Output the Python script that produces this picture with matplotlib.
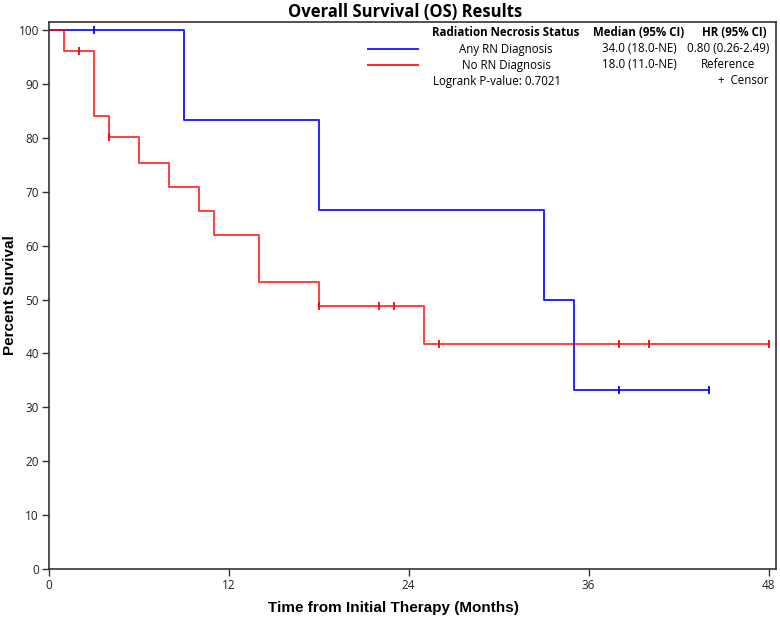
import matplotlib
matplotlib.use("Agg")
import matplotlib.pyplot as plt
import numpy as np

# Data
any_rn_times = [0, 9, 18, 33, 35, 44]
any_rn_surv = [100, 83.3, 66.7, 50.0, 33.3, 33.3]
any_rn_censor_t = [3, 38, 44]

no_rn_times = [0, 1, 3, 4, 6, 8, 10, 11, 14, 18, 25, 48]
no_rn_surv = [100, 96.2, 84.1, 80.1, 75.4, 70.9, 66.5, 62.0, 53.3, 48.8, 41.8, 41.8]
no_rn_censor_t = [2, 4, 18, 22, 23, 26, 38, 40, 48]

x_ticks = [0, 12, 24, 36, 48]
y_ticks = list(range(0, 101, 10))

legend_header = ["Radiation Necrosis Status", "Median (95% CI)", "HR (95% CI)"]
legend_rows = [["Any RN Diagnosis", "34.0 (18.0-NE)", "0.80 (0.26-2.49)"],
               ["No RN Diagnosis", "18.0 (11.0-NE)", "Reference"]]
pvalue_text = "Logrank P-value: 0.7021"

BLUE = "#0000ff"
RED = "#ff0000"

plt.rcParams['font.family'] = ['Open Sans', 'DejaVu Sans']

W, H = 780, 622
fig = plt.figure(figsize=(W/100, H/100), dpi=100)
ax = fig.add_axes([48.5/W, 1-569/H, (776-48.5)/W, (569-22)/H])

def surv_at(times, surv, t):
    idx = np.searchsorted(times, t, side='right') - 1
    return surv[idx]

ax.step(any_rn_times, any_rn_surv, where='post', color=BLUE, lw=1.4, alpha=0.85)
ax.step(no_rn_times, no_rn_surv, where='post', color=RED, lw=1.4, alpha=0.75)
ax.plot(any_rn_censor_t, [surv_at(any_rn_times, any_rn_surv, t) for t in any_rn_censor_t],
        ls='none', marker='|', ms=6, mew=1.3, color=BLUE)
ax.plot(no_rn_censor_t, [surv_at(no_rn_times, no_rn_surv, t) for t in no_rn_censor_t],
        ls='none', marker='|', ms=6, mew=1.3, color=RED)

ax.set_xlim(0, 48.5)
ax.set_ylim(0, 101.5)
ax.set_xticks(x_ticks)
ax.set_yticks(y_ticks)
ax.tick_params(labelsize=8.5, length=5, width=1, color='#333333', labelcolor='#222222', pad=2)
for s in ax.spines.values():
    s.set_linewidth(1.2)
    s.set_color('#333333')

ax.set_xlabel("Time from Initial Therapy (Months)", fontsize=11, fontweight='bold',
              family=['Liberation Sans', 'DejaVu Sans'])
ax.xaxis.set_label_coords((393 - 48.5)/727.5, -(601 - 569)/547)
ax.set_ylabel("Percent Survival", fontsize=11, fontweight='bold',
              family=['Liberation Sans', 'DejaVu Sans'])
ax.yaxis.set_label_coords(-(48.5 - 17)/727.5, 0.5)
fig.text(405/W, 1-12/H, "Overall Survival (OS) Results", ha='center', va='center',
         fontsize=12, fontweight='bold')

# Legend block
def fx(x): return x/W
def fy(y): return 1-y/H

fs = 8.3
fig.text(fx(506), fy(33), legend_header[0], ha='center', va='center', fontsize=fs, fontweight='bold')
fig.text(fx(639), fy(33), legend_header[1], ha='center', va='center', fontsize=fs, fontweight='bold')
fig.text(fx(734), fy(33), legend_header[2], ha='center', va='center', fontsize=fs, fontweight='bold')
for i, (row, col) in enumerate(zip(legend_rows, [BLUE, RED])):
    y = 49 + 16*i
    fig.add_artist(plt.Line2D([fx(368), fx(418)], [fy(y), fy(y)], color=col, lw=1.4, alpha=0.85))
    fig.text(fx(506), fy(y), row[0], ha='center', va='center', fontsize=fs)
    fig.text(fx(639), fy(y), row[1], ha='center', va='center', fontsize=fs)
    fig.text(fx(728), fy(y), row[2], ha='center', va='center', fontsize=fs)
fig.text(fx(433), fy(81), pvalue_text, ha='left', va='center', fontsize=fs)
fig.text(fx(768), fy(81), "+  Censor", ha='right', va='center', fontsize=fs)

fig.savefig("out.png", dpi=100)
